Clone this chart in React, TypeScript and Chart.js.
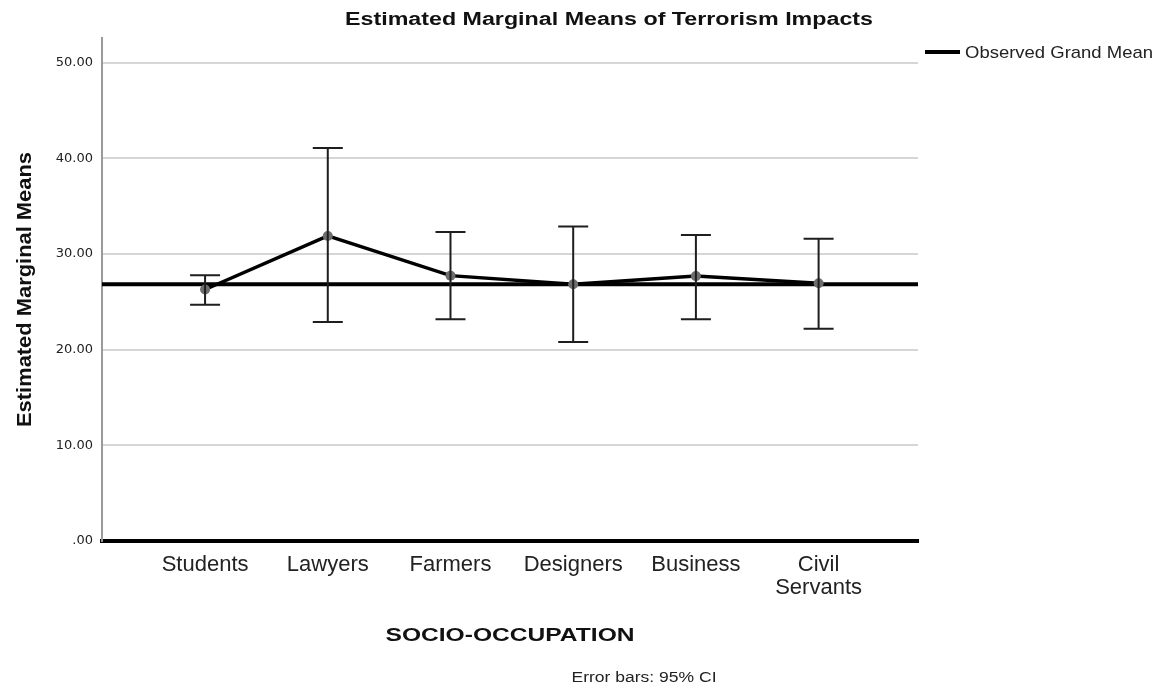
import React, { useEffect, useRef } from 'react';
import { Chart, registerables } from 'chart.js';

Chart.register(...registerables);

// ---- data ----
const categories = ['Students', 'Lawyers', 'Farmers', 'Designers', 'Business', 'Civil Servants'];
const xTickLabels = [['Students'], ['Lawyers'], ['Farmers'], ['Designers'], ['Business'], ['Civil', 'Servants']];
const meanValues = [26.3, 31.9, 27.75, 26.85, 27.7, 26.95];
const ciLower = [24.7, 22.9, 23.2, 20.8, 23.2, 22.2];
const ciUpper = [27.8, 41.1, 32.3, 32.9, 32.0, 31.6];
const grandMean = 26.85;
const yTickValues = [0, 10, 20, 30, 40, 50];
const yTickLabels = ['.00', '10.00', '20.00', '30.00', '40.00', '50.00'];

const X_MIN = 0.16;
const X_MAX = 6.81;
const Y_MIN = 0;
const Y_MAX = 52.6;

const SANS = "'Liberation Sans', Arial, sans-serif";

function fitText(
  ctx: CanvasRenderingContext2D,
  text: string,
  x: number,
  y: number,
  font: string,
  width: number,
  align: CanvasTextAlign,
  color: string,
  rotate = 0
) {
  ctx.save();
  ctx.font = font;
  const w = ctx.measureText(text).width;
  const sx = width > 0 ? width / w : 1;
  ctx.translate(x, y);
  if (rotate) ctx.rotate(rotate);
  ctx.scale(sx, 1);
  ctx.textAlign = align;
  ctx.textBaseline = 'alphabetic';
  ctx.fillStyle = color;
  ctx.fillText(text, 0, 0);
  ctx.restore();
}

const decorPlugin = {
  id: 'decor',
  afterDatasetsDraw(chart: any) {
    const ctx: CanvasRenderingContext2D = chart.ctx;
    const xs = chart.scales.x;
    const ys = chart.scales.y;
    ctx.save();
    ctx.strokeStyle = '#1e1e1e';
    ctx.lineWidth = 2;
    for (let i = 0; i < categories.length; i++) {
      const px = xs.getPixelForValue(i + 1);
      const top = ys.getPixelForValue(ciUpper[i]);
      const bot = ys.getPixelForValue(ciLower[i]);
      ctx.beginPath();
      ctx.moveTo(px, top);
      ctx.lineTo(px, bot);
      ctx.moveTo(px - 15, top);
      ctx.lineTo(px + 15, top);
      ctx.moveTo(px - 15, bot);
      ctx.lineTo(px + 15, bot);
      ctx.stroke();
    }
    ctx.restore();
  },
  afterDraw(chart: any) {
    const ctx: CanvasRenderingContext2D = chart.ctx;
    const area = chart.chartArea;
    // title
    fitText(ctx, 'Estimated Marginal Means of Terrorism Impacts', 609, 25, `bold 18px ${SANS}`, 528, 'center', '#111');
    // legend
    ctx.save();
    ctx.strokeStyle = '#000';
    ctx.lineWidth = 4;
    ctx.beginPath();
    ctx.moveTo(925, 52);
    ctx.lineTo(960, 52);
    ctx.stroke();
    ctx.restore();
    fitText(ctx, 'Observed Grand Mean', 965, 58, `17px ${SANS}`, 188, 'left', '#222');
    // y title
    fitText(ctx, 'Estimated Marginal Means', 31, (area.top + area.bottom) / 2, `bold 20px ${SANS}`, 275, 'center', '#111', -Math.PI / 2);
    // x title
    fitText(ctx, 'SOCIO-OCCUPATION', (area.left + area.right) / 2, 641, `bold 19px ${SANS}`, 249, 'center', '#111');
    // footer
    fitText(ctx, 'Error bars: 95% CI', 644, 682, `14px ${SANS}`, 145, 'center', '#222');
  },
};

export default function App() {
  const canvasRef = useRef<HTMLCanvasElement | null>(null);

  useEffect(() => {
    if (!canvasRef.current) return;
    const chart = new Chart(canvasRef.current, {
      type: 'line',
      data: {
        datasets: [
          {
            label: 'Observed Grand Mean',
            data: [
              { x: X_MIN, y: grandMean },
              { x: X_MAX, y: grandMean },
            ],
            borderColor: '#000',
            borderWidth: 4,
            pointRadius: 0,
            order: 2,
          },
          {
            label: 'Estimated Marginal Means',
            data: meanValues.map((v, i) => ({ x: i + 1, y: v })),
            borderColor: '#000',
            borderWidth: 3.5,
            pointRadius: 5,
            pointBackgroundColor: '#6e6e6e',
            pointBorderColor: '#6e6e6e',
            pointBorderWidth: 0,
            order: 1,
          },
        ],
      },
      options: {
        responsive: false,
        animation: false,
        devicePixelRatio: 1,
        layout: { padding: { left: 0, top: 38, right: 240, bottom: 0 } },
        plugins: {
          legend: { display: false },
          tooltip: { enabled: false },
          title: { display: false },
        },
        scales: {
          x: {
            type: 'linear',
            min: X_MIN,
            max: X_MAX,
            afterFit: (s: any) => {
              s.height = 148;
            },
            grid: { display: false, drawTicks: false },
            border: { display: true, color: '#000', width: 4 },
            ticks: {
              stepSize: 1,
              includeBounds: false,
              autoSkip: false,
              maxRotation: 0,
              minRotation: 0,
              padding: 12,
              color: '#222',
              font: { family: SANS, size: 22, lineHeight: 1.05 },
              callback: (v: any) => {
                const idx = Math.round(Number(v)) - 1;
                return xTickLabels[idx] ?? '';
              },
            },
          },
          y: {
            type: 'linear',
            min: Y_MIN,
            max: Y_MAX,
            afterFit: (s: any) => {
              s.width = 102;
            },
            grid: { color: '#d6d6d6', lineWidth: 2, drawTicks: false },
            border: { display: true, color: '#9a9a9a', width: 2 },
            ticks: {
              stepSize: 10,
              includeBounds: false,
              padding: 9,
              color: '#222',
              font: { family: "'DejaVu Sans', sans-serif", size: 13 },
              callback: (v: any) => {
                const idx = yTickValues.indexOf(Number(v));
                return idx >= 0 ? yTickLabels[idx] : '';
              },
            },
          },
        },
      },
      plugins: [decorPlugin],
    } as any);
    return () => chart.destroy();
  }, []);

  return (
    <div style={{ position: 'fixed', left: 0, top: 0, width: 1158, height: 689, background: '#fff' }}>
      <canvas ref={canvasRef} width={1158} height={689} style={{ width: 1158, height: 689, display: 'block' }} />
    </div>
  );
}
